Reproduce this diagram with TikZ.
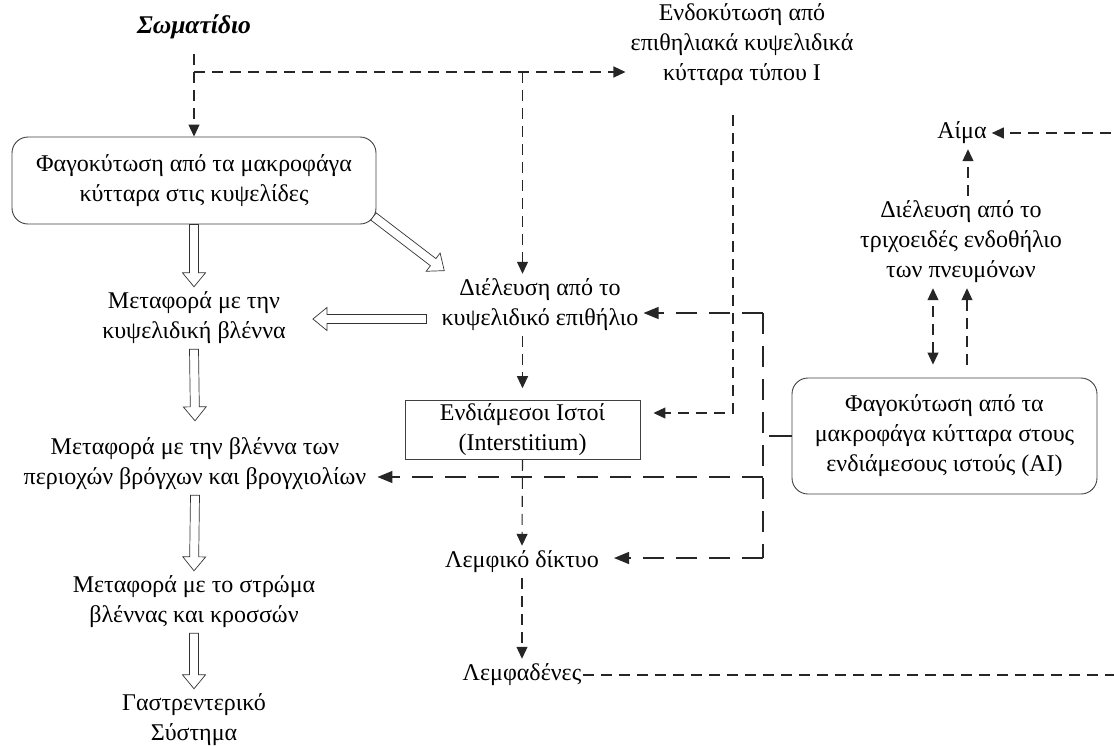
\documentclass[tikz,border=0pt]{standalone}
\usepackage{fontspec}
\setmainfont{Liberation Serif}
\usetikzlibrary{arrows.meta,positioning,calc}
\tikzset{rbox/.style={draw=black!75,line width=0.9pt,rounded corners=16pt,align=center},sbox/.style={draw=black!75,line width=0.9pt,align=center},txt/.style={align=center,inner sep=5pt},dline/.style={draw=black!85,line width=1.1pt,dash pattern=on 11pt off 7pt},lline/.style={draw=black!85,line width=1.3pt,dash pattern=on 21pt off 12pt},tip/.style={-{Triangle[length=12pt,width=11pt]}},btip/.style={-{Triangle[length=15pt,width=12pt]}},hollow/.style={draw=black!80,fill=white,line width=0.7pt,to path={let \p1=($(\tikztotarget)-(\tikztostart)$),\n1={atan2(\y1,\x1)},\n2={veclen(\x1,\y1)} in {[shift={(\tikztostart)},rotate=\n1] (0,-4.5) -- (\n2-14,-4.5) -- (\n2-14,-11.5) -- (\n2,0) -- (\n2-14,11.5) -- (\n2-14,4.5) -- (0,4.5) -- cycle}}}}

\begin{document}
\begin{tikzpicture}[x=1pt,y=-1pt,font=\fontsize{24}{30}\selectfont]
\useasboundingbox (0,0) rectangle (1114,745);
\clip (0,0) rectangle (1114,745);
% left column
\node[txt,font=\fontsize{25.5}{30}\selectfont\bfseries\itshape] (title) at (194,27) {Σωματίδιο};
\node[rbox,minimum width=364pt,minimum height=87pt] (alv) at (194,180.5) {Φαγοκύτωση από τα μακροφάγα\\κύτταρα στις κυψελίδες};
\node[txt] (mucus1) at (194,318) {Μεταφορά με την\\κυψελιδική βλέννα};
\node[txt] (mucus2) at (195,464) {Μεταφορά με την βλέννα των\\περιοχών βρόγχων και βρογχιολίων};
\node[txt] (mucus3) at (194,602) {Μεταφορά με το στρώμα\\βλέννας και κροσσών};
\node[txt] (gi) at (194,720) {Γαστρεντερικό\\Σύστημα};
% middle column
\node[txt] (endo) at (742,45) {Ενδοκύτωση από\\επιθηλιακά κυψελιδικά\\κύτταρα τύπου I};
\node[txt] (epith) at (540,305) {Διέλευση από το\\κυψελιδικό επιθήλιο};
\node[sbox,minimum width=235pt,minimum height=58pt] (inter) at (522.5,430) {Ενδιάμεσοι Ιστοί\\(Interstitium)};
\node[txt] (lymphnet) at (522,562) {Λεμφικό δίκτυο};
\node[txt] (lymphnodes) at (522,675) {Λεμφαδένες};
% right column
\node[txt] (blood) at (962,133) {Αίμα};
\node[txt] (capil) at (961,242) {Διέλευση από το\\τριχοειδές ενδοθήλιο\\των πνευμόνων};
\node[rbox,minimum width=305pt,minimum height=116pt] (amac) at (944.5,436) {Φαγοκύτωση από τα\\μακροφάγα κύτταρα στους\\ενδιάμεσους ιστούς (AI)};
\coordinate (split) at (194,72);
\coordinate (bt) at (763,313);
\coordinate (bm) at (763,477);
\coordinate (bb) at (763,558);
\coordinate (up1) at ($(capil.north)+(7,0)$);
\coordinate (ai1) at ($(amac.north)+(-11.5,-13)$);
\coordinate (ai2) at ($(amac.north)+(22.5,-13)$);
% dashed routes
\draw[dline,tip,shorten <=10pt] (title.south) -- (alv.north);
\draw[dline,tip] (split) -- (split -| endo.west);
\draw[dline,tip] (split -| inter.north) -- (inter.north |- epith.north);
\draw[dline,tip,shorten >=12pt] (inter.north |- epith.south) -- (inter.north);
\draw[dline,tip] ($(endo.south)+(-9,24)$) |- ($(inter.east)+(13,-17)$);
\draw[dline,tip] (inter.south) -- (lymphnet.north);
\draw[dline,tip] (lymphnet.south) -- (lymphnodes.north);
\draw[dline,tip] ($(lymphnodes.east)+(-4,0)$) -- ++(560,0) |- (blood.east);
\draw[dline,tip] (up1) -- (up1 |- blood.south);
\draw[dline,{Triangle[length=12pt,width=11pt]}-{Triangle[length=12pt,width=11pt]}] (ai1) -- (ai1 |- capil.south);
\draw[dline,tip] (ai2) -- (ai2 |- capil.south);
\draw[draw=black!85,line width=1.1pt] (amac.west) -- ++(-23,0);
\draw[lline] (bt) -- (bb);
\draw[lline,btip] (bt) -- (bt -| epith.east);
\draw[lline,btip,shorten >=6pt] (bm) -- (bm -| mucus2.east);
\draw[lline,btip,shorten >=10pt] (bb) -- (bb -| lymphnet.east);
% hollow arrows
\path[hollow] (alv.south) to (mucus1.north);
\path[hollow] ($(alv.south east)+(-3,-8)$) to ($(epith.north west)+(8,-3)$);
\path[hollow] ($(epith.west)+(-10,14)$) to ($(mucus1.east)+(22,1)$);
\path[hollow] (mucus1.south) to ($(mucus2.north)+(0,-12)$);
\path[hollow] (mucus2.south) to (mucus3.north);
\path[hollow] (mucus3.south) to (gi.north);
\end{tikzpicture}
\end{document}
